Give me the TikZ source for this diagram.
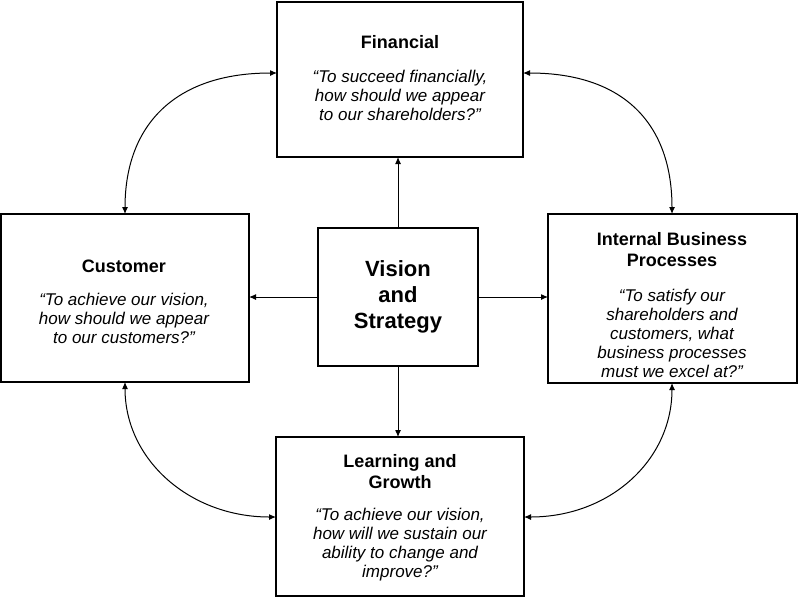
\documentclass[tikz,border=0pt]{standalone}
\usepackage{fontspec}
\setmainfont{Liberation Sans}
\usetikzlibrary{arrows.meta}
\begin{document}
\begin{tikzpicture}[x=1pt,y=-1pt,
 box/.style={draw,line width=1.6pt,inner sep=0pt},
 arr/.style={line width=1pt,-{Latex[length=7pt,width=6pt]}},
 darr/.style={line width=1pt,{Latex[length=7pt,width=6pt]}-{Latex[length=7pt,width=6pt]}},
 ttl/.style={font=\bfseries\fontsize{18}{21}\selectfont,align=center},
 txt/.style={font=\itshape\fontsize{17}{19}\selectfont,align=center}]
\useasboundingbox (0,0) rectangle (800,598);
\draw[box] (277,2) rectangle (523,157); \coordinate (fin) at (400,80);
\draw[box] (1,214) rectangle (249,382);
\draw[box] (548,214) rectangle (797,383);
\draw[box] (276,437) rectangle (524,596);
\draw[box] (318,228) rectangle (478,366);
\node[ttl] (t1) at (400,42) {Financial};
\node[txt] (x1) at (400,95) {“To succeed financially,\\how should we appear\\to our shareholders?”};
\node[ttl] (t2) at (124,266) {Customer};
\node[txt] (x2) at (124,318) {“To achieve our vision,\\how should we appear\\to our customers?”};
\node[ttl] (t3) at (672,250) {Internal Business\\Processes};
\node[txt] (x3) at (672,333) {“To satisfy our\\shareholders and\\customers, what\\business processes\\must we excel at?”};
\node[ttl] (t4) at (400,472) {Learning and\\Growth};
\node[txt] (x4) at (400,545) {“To achieve our vision,\\how will we sustain our\\ability to change and\\improve?”};
\node[font=\bfseries\fontsize{22}{26}\selectfont,align=center] (v) at (398,297) {Vision\\and\\Strategy};
\coordinate (vt) at (398,228); \coordinate (ft) at (398,157);
\coordinate (vl) at (318,297); \coordinate (cl) at (249,297);
\coordinate (vr) at (478,297); \coordinate (ir) at (548,297);
\coordinate (vb) at (398,366); \coordinate (lb) at (398,437);
\draw[arr] (vt) -- (ft);
\draw[arr] (vl) -- (cl);
\draw[arr] (vr) -- (ir);
\draw[arr] (vb) -- (lb);
\coordinate (fl) at (277,73); \coordinate (ct) at (125,214);
\coordinate (fr) at (523,73); \coordinate (it) at (672,214);
\coordinate (cb) at (125,382); \coordinate (ll) at (276,517);
\coordinate (ib) at (672,383); \coordinate (lr) at (524,517);
\draw[darr] (fl) .. controls (175,73) and (125,125) .. (ct);
\draw[darr] (fr) .. controls (625,73) and (672,125) .. (it);
\draw[darr] (cb) .. controls (125,460) and (190,517) .. (ll);
\draw[darr] (ib) .. controls (672,460) and (610,517) .. (lr);
\end{tikzpicture}
\end{document}
